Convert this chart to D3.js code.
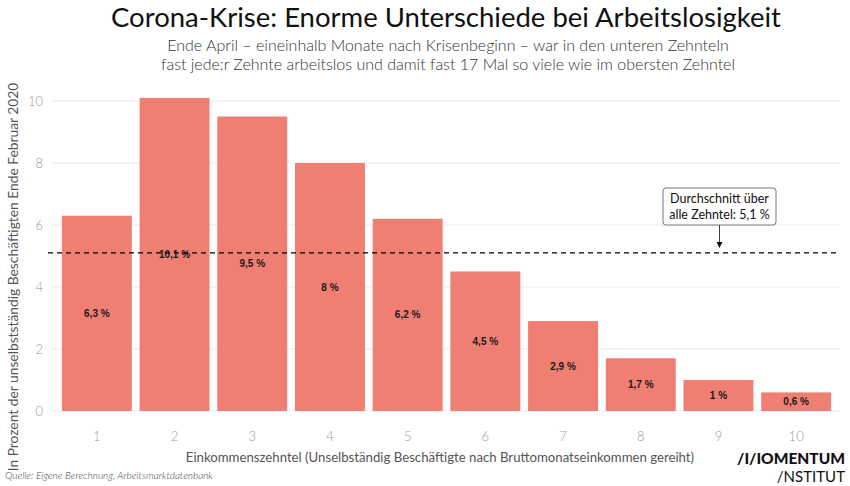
<!DOCTYPE html>
<html>
<head>
<meta charset="utf-8">
<script src="https://cdn.jsdelivr.net/npm/d3@7"></script>
<style>
  body { margin: 0; background: #fff; }
  svg { font-family: Lato, "Noto Sans", sans-serif; }
</style>
</head>
<body>
<script>
const width = 850;
const height = 486;

const deciles = ["1", "2", "3", "4", "5", "6", "7", "8", "9", "10"];
const values = [6.3, 10.1, 9.5, 8, 6.2, 4.5, 2.9, 1.7, 1, 0.6];
const labels = ["6,3 %", "10,1 %", "9,5 %", "8 %", "6,2 %", "4,5 %", "2,9 %", "1,7 %", "1 %", "0,6 %"];
const yTicks = [0, 2, 4, 6, 8, 10];
const average = 5.1;

const margin = { top: 85, right: 15, bottom: 75, left: 58 };

const svg = d3.select("body")
  .append("svg")
  .attr("width", width)
  .attr("height", height);

const x = d3.scaleBand()
  .domain(deciles)
  .range([margin.left, width - margin.right])
  .paddingInner(0.1)
  .paddingOuter(0.05);

const y = d3.scaleLinear()
  .domain([0, 10])
  .range([411, 101]);

// gridlines
svg.append("g")
  .selectAll("line")
  .data(yTicks)
  .join("line")
  .attr("x1", 52)
  .attr("x2", 840)
  .attr("y1", (d) => y(d))
  .attr("y2", (d) => y(d))
  .attr("stroke", "#ebebeb")
  .attr("stroke-width", 1);

// y tick labels
svg.append("g")
  .selectAll("text")
  .data(yTicks)
  .join("text")
  .attr("x", 43)
  .attr("y", (d) => y(d))
  .attr("dy", "0.35em")
  .attr("text-anchor", "end")
  .attr("font-size", 13)
  .attr("font-weight", 300)
  .attr("fill", "#9a9a9a")
  .text((d) => d);

// bars
svg.append("g")
  .selectAll("rect")
  .data(values)
  .join("rect")
  .attr("x", (d, i) => x(deciles[i]))
  .attr("y", (d) => y(d))
  .attr("width", x.bandwidth())
  .attr("height", (d) => y(0) - y(d))
  .attr("fill", "#ef7e73");

// bar labels
svg.append("g")
  .selectAll("text")
  .data(values)
  .join("text")
  .attr("x", (d, i) => x(deciles[i]) + x.bandwidth() / 2)
  .attr("y", (d) => y(d / 2))
  .attr("dy", "0.35em")
  .attr("text-anchor", "middle")
  .attr("font-family", "'Liberation Sans', Arial, sans-serif")
  .attr("font-size", 10)
  .attr("font-weight", "bold")
  .attr("fill", "#1a1a1a")
  .text((d, i) => labels[i]);

// average line
svg.append("line")
  .attr("x1", 48)
  .attr("x2", 840)
  .attr("y1", y(average))
  .attr("y2", y(average))
  .attr("stroke", "#000")
  .attr("stroke-width", 1.2)
  .attr("stroke-dasharray", "5,4");

// annotation
const ann = svg.append("g");
ann.append("rect")
  .attr("x", 663)
  .attr("y", 188)
  .attr("width", 113)
  .attr("height", 37)
  .attr("rx", 3)
  .attr("fill", "#fff")
  .attr("stroke", "#555")
  .attr("stroke-width", 0.8);
ann.append("text")
  .attr("x", 719.5)
  .attr("y", 203)
  .attr("text-anchor", "middle")
  .attr("font-size", 12.5)
  .attr("fill", "#111")
  .text("Durchschnitt über");
ann.append("text")
  .attr("x", 719.5)
  .attr("y", 219)
  .attr("text-anchor", "middle")
  .attr("font-size", 12.5)
  .attr("fill", "#111")
  .text("alle Zehntel: 5,1 %");
ann.append("line")
  .attr("x1", 719.5)
  .attr("x2", 719.5)
  .attr("y1", 225)
  .attr("y2", 243)
  .attr("stroke", "#111")
  .attr("stroke-width", 0.8);
ann.append("path")
  .attr("d", `M716.5,242 L722.5,242 L719.5,248 Z`)
  .attr("fill", "#111");

// x tick labels
svg.append("g")
  .selectAll("text")
  .data(deciles)
  .join("text")
  .attr("x", (d) => x(d) + x.bandwidth() / 2)
  .attr("y", 441)
  .attr("text-anchor", "middle")
  .attr("font-size", 13)
  .attr("font-weight", 300)
  .attr("fill", "#9a9a9a")
  .text((d) => d);

// axis titles
svg.append("text")
  .attr("x", 440)
  .attr("y", 462)
  .attr("text-anchor", "middle")
  .attr("font-size", 13.2)
  .attr("fill", "#555")
  .text("Einkommenszehntel (Unselbständig Beschäftigte nach Bruttomonatseinkommen gereiht)");

svg.append("text")
  .attr("transform", "translate(18,277) rotate(-90)")
  .attr("text-anchor", "middle")
  .attr("font-size", 13.8)
  .attr("fill", "#555")
  .text("In Prozent der unselbstständig Beschäftigten Ende Februar 2020");

// titles
svg.append("text")
  .attr("x", 446)
  .attr("y", 27)
  .attr("text-anchor", "middle")
  .attr("font-size", 27.5)
  .attr("fill", "#111")
  .text("Corona-Krise: Enorme Unterschiede bei Arbeitslosigkeit");

svg.append("text")
  .attr("x", 448)
  .attr("y", 51)
  .attr("text-anchor", "middle")
  .attr("font-size", 16)
  .attr("font-weight", 300)
  .attr("fill", "#333")
  .text("Ende April – eineinhalb Monate nach Krisenbeginn – war in den unteren Zehnteln");

svg.append("text")
  .attr("x", 448)
  .attr("y", 70)
  .attr("text-anchor", "middle")
  .attr("font-size", 16)
  .attr("font-weight", 300)
  .attr("fill", "#333")
  .text("fast jede:r Zehnte arbeitslos und damit fast 17 Mal so viele wie im obersten Zehntel");

// source
svg.append("text")
  .attr("x", 5)
  .attr("y", 479)
  .attr("font-size", 10)
  .attr("font-style", "italic")
  .attr("font-weight", 300)
  .attr("fill", "#444")
  .text("Quelle: Eigene Berechnung, Arbeitsmarktdatenbank");

// logo
svg.append("text")
  .attr("x", 845)
  .attr("y", 464)
  .attr("text-anchor", "end")
  .attr("font-size", 15.5)
  .attr("font-weight", 900)
  .attr("fill", "#111")
  .text("/I/IOMENTUM");
svg.append("text")
  .attr("x", 845)
  .attr("y", 482)
  .attr("text-anchor", "end")
  .attr("font-size", 15)
  .attr("fill", "#111")
  .text("/NSTITUT");
</script>
</body>
</html>
